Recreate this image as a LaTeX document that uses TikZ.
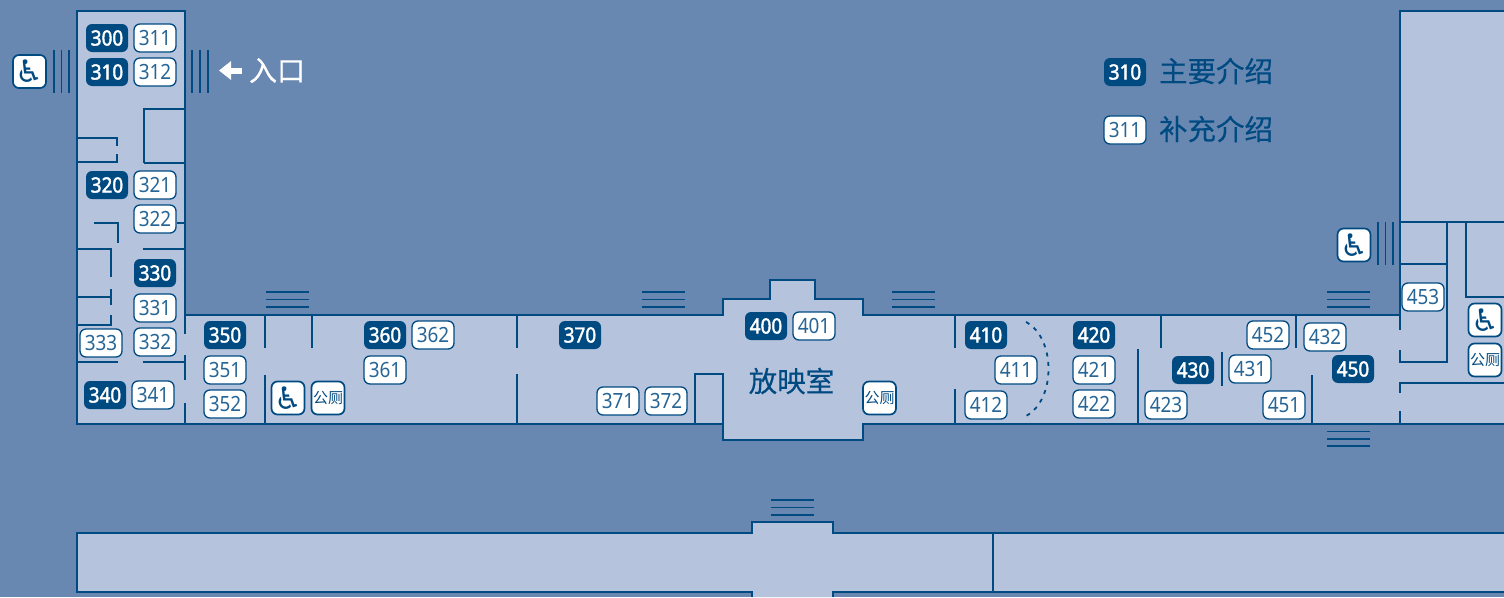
\documentclass[tikz,border=0pt]{standalone}
\usepackage{xcolor}
\usepackage{fontspec}
\usepackage{tikz}
\usetikzlibrary{positioning, arrows.meta}

\setmainfont{Noto Sans}
\newfontfamily\roomfont[FakeStretch=0.9]{Noto Sans}
\newfontfamily\roomheavyfont[FakeStretch=0.9, FakeBold=2]{Noto Sans}
\newfontfamily\cjkfont{Noto Sans CJK SC}
\newfontfamily\cjkheavyfont[FakeBold=0.3]{Noto Sans CJK SC}
\newfontfamily\iconfont{DejaVu Sans}

\definecolor{sitebg}{HTML}{6888B2}
\definecolor{floorbg}{HTML}{B6C3DC}
\definecolor{wallblue}{HTML}{004A82}

\tikzset{
    wall/.style={draw=wallblue, line width=2pt},
    stairs/.style={draw=wallblue, line width=1.7pt},
    roommain/.style={rectangle, rounded corners=6pt, fill=wallblue, text=white, minimum width=42pt, minimum height=28pt, inner sep=0pt, outer sep=0pt, font={\fontsize{21}{21}\roomheavyfont}},
    roomsub/.style={rectangle, rounded corners=6pt, draw=wallblue, line width=1.3pt, fill=white, text=wallblue!85, minimum width=42pt, minimum height=28pt, inner sep=0pt, outer sep=0pt, font={\fontsize{21}{21}\roomfont}},
    wheelchair/.style={rectangle, rounded corners=6pt, draw=wallblue, line width=1.7pt, fill=white, text=wallblue, minimum width=33pt, minimum height=33pt, inner sep=0pt, outer sep=0pt, font={\fontsize{31}{31}\iconfont}},
    toilet/.style={wheelchair, font={\fontsize{15}{15}\cjkfont}},
    hallname/.style={inner sep=0pt, outer sep=0pt, text=wallblue, font={\fontsize{28.5}{29}\cjkheavyfont}},
    entryname/.style={hallname, text=white, font={\fontsize{28}{28}\cjkheavyfont}}
}

\begin{document}
\begin{tikzpicture}[x=1pt, y=-1pt, node distance=6pt]
    \useasboundingbox (0,0) rectangle (1504,597);
    \fill[sitebg] (0,0) rectangle (1504,597);

    % floors
    \fill[floorbg] (77,11) -- (185,11) -- (185,315) -- (723,315) -- (723,299) -- (770,299) -- (770,280) -- (815,280) -- (815,299) -- (863,299) -- (863,315) -- (1400,315) -- (1400,11) -- (1504,11) -- (1504,424) -- (863,424) -- (863,440) -- (723,440) -- (723,424) -- (77,424) -- cycle;
    \fill[floorbg] (77,533) -- (752,533) -- (752,522) -- (833,522) -- (833,533) -- (1504,533) -- (1504,592) -- (833,592) -- (833,597) -- (752,597) -- (752,592) -- (77,592) -- cycle;

    % outer walls
    \draw[wall] (185,334) -- (185,11) -- (77,11) -- (77,424) -- (723,424) -- (723,440) -- (863,440) -- (863,424) -- (1504,424);
    \draw[wall] (185,355) -- (185,380);
    \draw[wall] (185,403) -- (185,424);
    \draw[wall] (185,315) -- (723,315) -- (723,299) -- (770,299) -- (770,280) -- (815,280) -- (815,299) -- (863,299) -- (863,315) -- (1400,315);
    \draw[wall] (1504,11) -- (1400,11) -- (1400,330);
    \draw[wall] (1400,350) -- (1400,362) -- (1447,362) -- (1447,222);
    \draw[wall] (1400,393) -- (1400,383) -- (1504,383);
    \draw[wall] (1400,411) -- (1400,424);
    \draw[wall] (752,597) -- (752,592) -- (77,592) -- (77,533) -- (752,533) -- (752,522) -- (833,522) -- (833,533) -- (1504,533);
    \draw[wall] (833,597) -- (833,592) -- (1504,592);
    \draw[wall] (993,533) -- (993,592);

    % inner walls, left wing
    \draw[wall] (144,163) -- (144,109) -- (185,109);
    \draw[wall] (144,163) -- (185,163);
    \draw[wall] (77,138) -- (117,138) -- (117,146);
    \draw[wall] (117,154) -- (117,162) -- (77,162);
    \draw[wall] (94,223) -- (118,223) -- (118,243);
    \draw[wall] (177,223) -- (185,223);
    \draw[wall] (143,249) -- (185,249);
    \draw[wall] (77,249) -- (111,249) -- (111,277);
    \draw[wall] (111,289) -- (111,305);
    \draw[wall] (77,297) -- (111,297);
    \draw[wall] (111,315) -- (111,325) -- (77,325);
    \draw[wall] (77,362) -- (118,362);
    \draw[wall] (143,362) -- (185,362);

    % inner walls, corridor
    \draw[wall] (265,315) -- (265,348);
    \draw[wall] (265,375) -- (265,424);
    \draw[wall] (312,315) -- (312,348);
    \draw[wall] (517,315) -- (517,348);
    \draw[wall] (517,374) -- (517,424);
    \draw[wall] (695,424) -- (695,374) -- (723,374) -- (723,424);
    \draw[wall] (955,315) -- (955,348);
    \draw[wall] (955,389) -- (955,424);
    \draw[wall] (1138,349) -- (1138,424);
    \draw[wall] (1161,315) -- (1161,348);
    \draw[wall] (1222,352) -- (1222,386);
    \draw[wall] (1296,315) -- (1296,348);
    \draw[wall] (1312,375) -- (1312,424);

    % inner walls, right wing
    \draw[wall] (1400,222) -- (1504,222);
    \draw[wall] (1400,264) -- (1447,264);
    \draw[wall] (1466,222) -- (1466,297) -- (1504,297);

    % curved screen
    \coordinate (screentop) at (1026,322);
    \coordinate (screenbottom) at (1026,416);
    \draw[draw=wallblue, line width=1.8pt, dash pattern=on 4pt off 5.5pt] (screentop) .. controls (1056,338) and (1056,400) .. (screenbottom);

    % stairs
    \draw[stairs] (54,50) -- (54,93) (61.5,50) -- (61.5,93) (69,50) -- (69,93);
    \draw[stairs] (192,50) -- (192,93) (200,50) -- (200,93) (208,50) -- (208,93);
    \draw[stairs] (266,292) -- (309,292) (266,299.5) -- (309,299.5) (266,307) -- (309,307);
    \draw[stairs] (642,292) -- (685,292) (642,299.5) -- (685,299.5) (642,307) -- (685,307);
    \draw[stairs] (892,292) -- (935,292) (892,299.5) -- (935,299.5) (892,307) -- (935,307);
    \draw[stairs] (1327,292) -- (1370,292) (1327,299.5) -- (1370,299.5) (1327,307) -- (1370,307);
    \draw[stairs] (1327,431.5) -- (1370,431.5) (1327,439) -- (1370,439) (1327,446) -- (1370,446);
    \draw[stairs] (771,500) -- (814,500) (771,507.5) -- (814,507.5) (771,515) -- (814,515);
    \draw[stairs] (1378,222) -- (1378,265) (1385.5,222) -- (1385.5,265) (1393,222) -- (1393,265);

    % rooms, left wing
    \node[roommain] (room300) at (107,38) {300};
    \node[roomsub, right=of room300] (room311) {311};
    \node[roommain, below=of room300] (room310) {310};
    \node[roomsub, right=of room310] (room312) {312};
    \node[roommain] (room320) at (107,185) {320};
    \node[roomsub, right=of room320] (room321) {321};
    \node[roomsub, below=of room321] (room322) {322};
    \node[roommain] (room330) at (155,273) {330};
    \node[roomsub, below=7pt of room330] (room331) {331};
    \node[roomsub, below=of room331] (room332) {332};
    \node[roomsub] (room333) at (101,343) {333};
    \node[roommain] (room340) at (105,395) {340};
    \node[roomsub, right=of room340] (room341) {341};

    % rooms, corridor
    \node[roommain] (room350) at (225,335) {350};
    \node[roomsub, below=7pt of room350] (room351) {351};
    \node[roomsub, below=of room351] (room352) {352};
    \node[roommain] (room360) at (385,335) {360};
    \node[roomsub, right=of room360] (room362) {362};
    \node[roomsub, below=7pt of room360] (room361) {361};
    \node[roommain] (room370) at (580,335) {370};
    \node[roomsub] (room371) at (618,401) {371};
    \node[roomsub, right=of room371] (room372) {372};
    \node[roommain] (room400) at (766,326) {400};
    \node[roomsub, right=of room400] (room401) {401};
    \node[roommain] (room410) at (986,335) {410};
    \node[roomsub] (room411) at (1016,370) {411};
    \node[roomsub] (room412) at (986,405) {412};
    \node[roommain] (room420) at (1094,335) {420};
    \node[roomsub, below=7pt of room420] (room421) {421};
    \node[roomsub, below=of room421] (room422) {422};
    \node[roomsub] (room423) at (1166,405) {423};
    \node[roommain] (room430) at (1193,370) {430};
    \node[roomsub] (room431) at (1250,369) {431};
    \node[roommain] (room450) at (1353,369) {450};
    \node[roomsub] (room451) at (1284,405) {451};
    \node[roomsub] (room452) at (1268,335) {452};
    \node[roomsub] (room432) at (1325,337) {432};
    \node[roomsub] (room453) at (1423,297) {453};

    % wheelchair access and toilets
    \node[wheelchair] (accessleft) at (29.5,71.5) {♿};
    \node[wheelchair] (accesshall) at (288,398) {♿};
    \node[toilet, right=7pt of accesshall] (toilethall) {公厕};
    \node[toilet] (toiletcinema) at (879.5,398) {公厕};
    \node[wheelchair] (accessright) at (1354,245) {♿};
    \node[wheelchair] (accessfar) at (1485,320) {♿};
    \node[toilet, below=7pt of accessfar] (toiletfar) {公厕};

    % names
    \node[hallname] (cinema) at (791.5,381) {放映室};
    \node[entryname] (entry) at (277,70.5) {入口};
    \coordinate[left=58pt of entry.center] (entryhead);
    \draw[-{Triangle[width=18pt, length=12pt]}, line width=6pt, draw=white] ([xshift=-7pt]entry.west) -- (entryhead);

    % legend
    \node[roommain] (keymain) at (1125,72) {310};
    \node[hallname, right=13pt of keymain, yshift=1pt] (keymaintext) {主要介绍};
    \node[roomsub] (keysub) at (1125,130) {311};
    \node[hallname, right=13pt of keysub, yshift=1pt] (keysubtext) {补充介绍};
\end{tikzpicture}
\end{document}
